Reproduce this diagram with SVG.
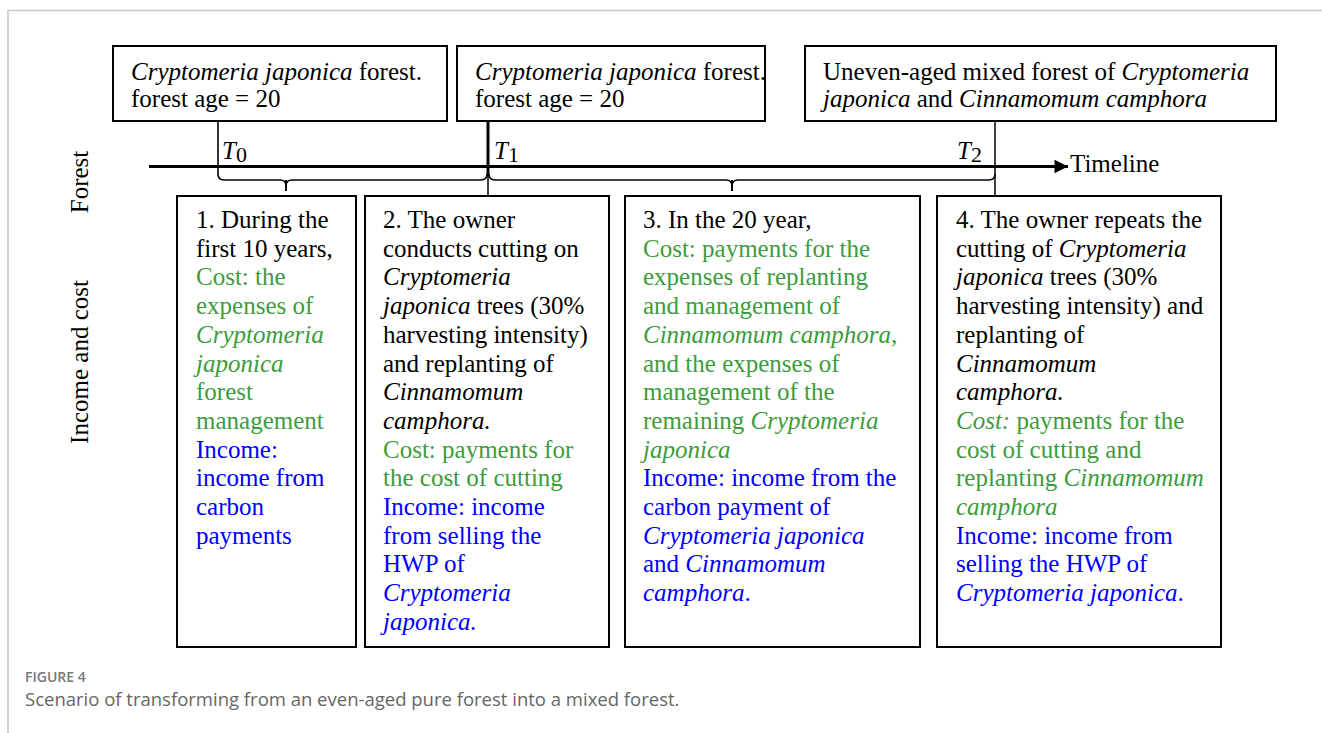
<svg xmlns="http://www.w3.org/2000/svg" width="1322" height="733" viewBox="0 0 1322 733">
<style>
.box{fill:#fff;stroke:#000;stroke-width:2}
.t{font-family:"Liberation Serif","Times New Roman",serif;font-size:25px;fill:#000}
.g{fill:#3c9c3c}
.b{fill:#0000ff}
.i{font-style:italic}
.ln{fill:none;stroke:#000;stroke-width:1.6}
.cap1{font-family:"Open Sans","Noto Sans",sans-serif;font-size:14px;font-weight:600;fill:#777}
.cap2{font-family:"Open Sans","Noto Sans",sans-serif;font-size:18.5px;fill:#666}
</style>
<defs>
<marker id="arr" viewBox="0 0 10 10" refX="10" refY="5" markerWidth="5" markerHeight="4.5" orient="auto" markerUnits="strokeWidth"><path d="M0,0L10,5L0,10z" fill="#000"/></marker>
</defs>
<rect width="1322" height="733" fill="#fff"/>
<g id="frame"><path d="M8,733V10.5H1322" fill="none" stroke="#c8c8c8" stroke-width="1.5"/></g>

<g id="labels">
<text class="t" transform="translate(88,182) rotate(-90)" text-anchor="middle">Forest</text>
<text class="t" transform="translate(88,362) rotate(-90)" text-anchor="middle">Income and cost</text>
</g>

<g id="connectors">
<line x1="149" y1="166.5" x2="1068" y2="166.5" stroke="#000" stroke-width="3" marker-end="url(#arr)"/>
<path class="ln" d="M218,121V174Q218,180 224,180H280Q286,180 286,186Q286,180 292,180H481Q487,180 487,174"/>
<line x1="286" y1="180" x2="286" y2="191" stroke="#000" stroke-width="2"/>
<path class="ln" d="M489,174Q489,180 495,180H726Q732,180 732,186Q732,180 738,180H989Q995,180 995,174"/>
<line x1="732" y1="180" x2="732" y2="191" stroke="#000" stroke-width="2"/>
<line x1="488" y1="121" x2="488" y2="176" stroke="#000" stroke-width="3"/>
<line x1="488" y1="176" x2="488" y2="196" stroke="#000" stroke-width="1.5"/>
<line x1="995" y1="121" x2="995" y2="196" stroke="#000" stroke-width="1.5"/>
<text class="t" x="1070" y="172">Timeline</text>
<text class="t" x="222" y="159" font-size="31"><tspan class="i">T</tspan><tspan font-size="22" dy="3">0</tspan></text>
<text class="t" x="494" y="159" font-size="31"><tspan class="i">T</tspan><tspan font-size="22" dy="3">1</tspan></text>
<text class="t" x="957" y="159" font-size="31"><tspan class="i">T</tspan><tspan font-size="22" dy="3">2</tspan></text>
</g>

<g id="top-a">
<rect class="box" x="113" y="46" width="334" height="75"/>
<text class="t" x="131" y="80"><tspan class="i">Cryptomeria japonica</tspan> forest.</text>
<text class="t" x="131" y="107">forest age = 20</text>
</g>
<g id="top-b">
<rect class="box" x="457" y="46" width="308" height="75"/>
<text class="t" x="475" y="80"><tspan class="i">Cryptomeria japonica</tspan> forest.</text>
<text class="t" x="475" y="107">forest age = 20</text>
</g>
<g id="top-c">
<rect class="box" x="805" y="46" width="471" height="75"/>
<text class="t" x="823" y="80">Uneven-aged mixed forest of <tspan class="i">Cryptomeria</tspan></text>
<text class="t" x="823" y="107"><tspan class="i">japonica</tspan> and <tspan class="i">Cinnamomum camphora</tspan></text>
</g>

<g id="step1">
<rect class="box" x="177" y="196" width="179" height="451"/>
<text class="t" x="196" y="228">1. During the</text>
<text class="t" x="196" y="256.7">first 10 years,</text>
<text class="t g" x="196" y="285.4">Cost: the</text>
<text class="t g" x="196" y="314.1">expenses of</text>
<text class="t g i" x="196" y="342.8">Cryptomeria</text>
<text class="t g i" x="196" y="371.5">japonica</text>
<text class="t g" x="196" y="400.2">forest</text>
<text class="t g" x="196" y="428.9">management</text>
<text class="t b" x="196" y="457.6">Income:</text>
<text class="t b" x="196" y="486.3">income from</text>
<text class="t b" x="196" y="515">carbon</text>
<text class="t b" x="196" y="543.7">payments</text>
</g>

<g id="step2">
<rect class="box" x="365" y="196" width="244" height="451"/>
<text class="t" x="383" y="228">2. The owner</text>
<text class="t" x="383" y="256.7">conducts cutting on</text>
<text class="t i" x="383" y="285.4">Cryptomeria</text>
<text class="t" x="383" y="314.1"><tspan class="i">japonica</tspan> trees (30%</text>
<text class="t" x="383" y="342.8">harvesting intensity)</text>
<text class="t" x="383" y="371.5">and replanting of</text>
<text class="t i" x="383" y="400.2">Cinnamomum</text>
<text class="t i" x="383" y="428.9">camphora.</text>
<text class="t g" x="383" y="457.6">Cost: payments for</text>
<text class="t g" x="383" y="486.3">the cost of cutting</text>
<text class="t b" x="383" y="515">Income: income</text>
<text class="t b" x="383" y="543.7">from selling the</text>
<text class="t b" x="383" y="572.4">HWP of</text>
<text class="t b i" x="383" y="601.1">Cryptomeria</text>
<text class="t b i" x="383" y="629.8">japonica.</text>
</g>

<g id="step3">
<rect class="box" x="625" y="196" width="295" height="451"/>
<text class="t" x="643" y="228">3. In the 20 year,</text>
<text class="t g" x="643" y="256.7">Cost: payments for the</text>
<text class="t g" x="643" y="285.4">expenses of replanting</text>
<text class="t g" x="643" y="314.1">and management of</text>
<text class="t g" x="643" y="342.8"><tspan class="i">Cinnamomum camphora</tspan>,</text>
<text class="t g" x="643" y="371.5">and the expenses of</text>
<text class="t g" x="643" y="400.2">management of the</text>
<text class="t g" x="643" y="428.9">remaining <tspan class="i">Cryptomeria</tspan></text>
<text class="t g i" x="643" y="457.6">japonica</text>
<text class="t b" x="643" y="486.3">Income: income from the</text>
<text class="t b" x="643" y="515">carbon payment of</text>
<text class="t b i" x="643" y="543.7">Cryptomeria japonica</text>
<text class="t b" x="643" y="572.4">and <tspan class="i">Cinnamomum</tspan></text>
<text class="t b" x="643" y="601.1"><tspan class="i">camphora</tspan>.</text>
</g>

<g id="step4">
<rect class="box" x="937" y="196" width="284" height="451"/>
<text class="t" x="956" y="228">4. The owner repeats the</text>
<text class="t" x="956" y="256.7">cutting of <tspan class="i">Cryptomeria</tspan></text>
<text class="t" x="956" y="285.4"><tspan class="i">japonica</tspan> trees (30%</text>
<text class="t" x="956" y="314.1">harvesting intensity) and</text>
<text class="t" x="956" y="342.8">replanting of</text>
<text class="t i" x="956" y="371.5">Cinnamomum</text>
<text class="t i" x="956" y="400.2">camphora.</text>
<text class="t g" x="956" y="428.9"><tspan class="i">Cost:</tspan> payments for the</text>
<text class="t g" x="956" y="457.6">cost of cutting and</text>
<text class="t g" x="956" y="486.3">replanting <tspan class="i">Cinnamomum</tspan></text>
<text class="t g i" x="956" y="515">camphora</text>
<text class="t b" x="956" y="543.7">Income: income from</text>
<text class="t b" x="956" y="572.4">selling the HWP of</text>
<text class="t b" x="956" y="601.1"><tspan class="i">Cryptomeria japonica</tspan>.</text>
</g>

<g id="caption">
<text class="cap1" x="25" y="682">FIGURE 4</text>
<text class="cap2" x="25" y="706">Scenario of transforming from an even-aged pure forest into a mixed forest.</text>
</g>
</svg>
